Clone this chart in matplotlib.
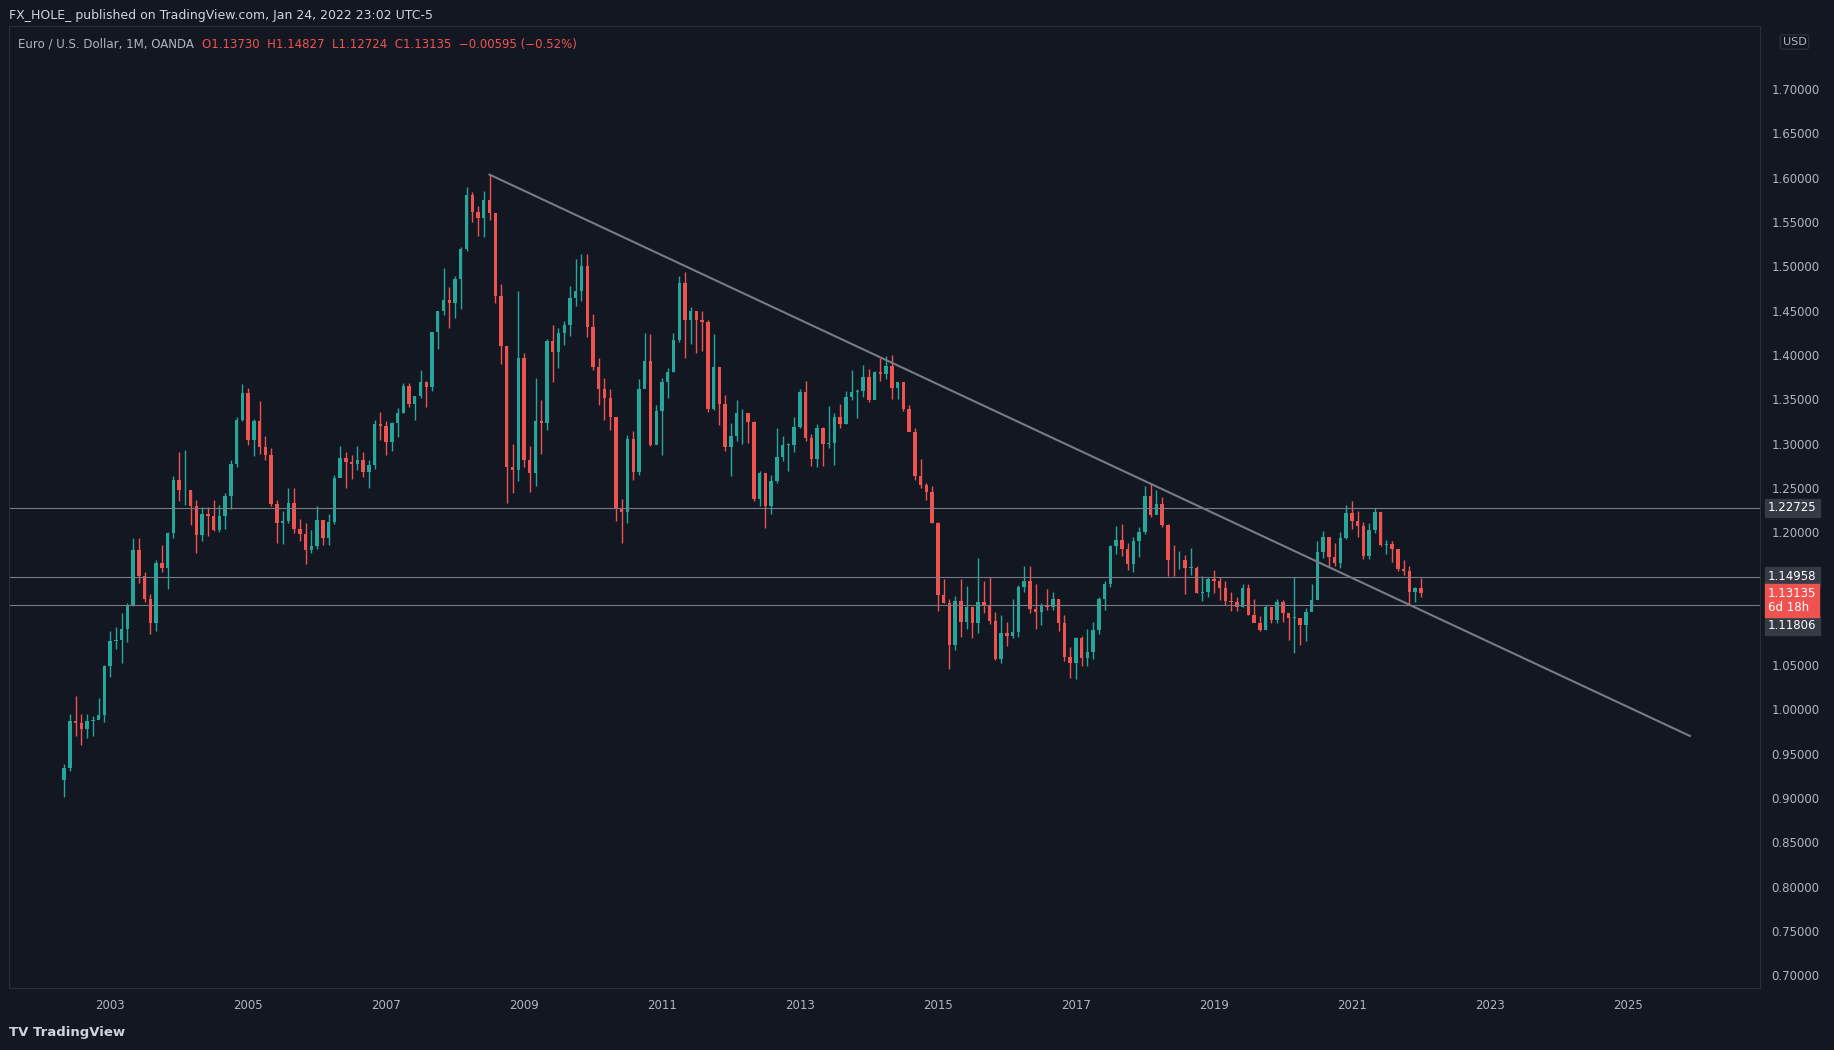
import matplotlib
matplotlib.use("Agg")
import matplotlib.pyplot as plt
from matplotlib.patches import Rectangle

start_year, start_month = 2002, 5
closes = [0.934,0.987,0.985,0.978,0.987,0.988,0.994,1.049,
1.077,1.078,1.091,1.117,1.180,1.150,1.124,1.098,1.165,1.160,1.199,1.259,
1.247,1.248,1.230,1.197,1.220,1.218,1.202,1.218,1.241,1.277,1.327,1.357,
1.304,1.325,1.296,1.287,1.232,1.210,1.213,1.233,1.203,1.198,1.180,1.184,
1.214,1.193,1.212,1.261,1.284,1.279,1.277,1.281,1.268,1.276,1.322,1.320,
1.302,1.323,1.335,1.365,1.345,1.354,1.369,1.364,1.426,1.449,1.462,1.459,
1.486,1.519,1.580,1.561,1.555,1.575,1.560,1.467,1.410,1.273,1.270,1.397,
1.281,1.267,1.325,1.323,1.416,1.403,1.425,1.434,1.464,1.472,1.500,1.432,
1.386,1.362,1.351,1.330,1.227,1.223,1.305,1.268,1.362,1.393,1.298,1.337,
1.369,1.381,1.417,1.481,1.439,1.450,1.439,1.437,1.339,1.386,1.345,1.296,
1.308,1.334,1.334,1.324,1.237,1.267,1.230,1.258,1.285,1.298,1.298,1.319,
1.358,1.306,1.282,1.317,1.300,1.301,1.330,1.322,1.352,1.358,1.359,1.375,
1.349,1.381,1.378,1.387,1.363,1.369,1.339,1.313,1.263,1.253,1.245,1.210,
1.129,1.120,1.073,1.122,1.099,1.115,1.098,1.121,1.118,1.100,1.057,1.086,
1.083,1.087,1.138,1.145,1.113,1.110,1.117,1.116,1.124,1.098,1.059,1.052,
1.080,1.058,1.065,1.090,1.124,1.142,1.184,1.191,1.181,1.164,1.190,1.200,
1.241,1.219,1.232,1.208,1.169,1.168,1.169,1.160,1.160,1.131,1.132,1.147,
1.145,1.137,1.122,1.121,1.116,1.137,1.107,1.098,1.090,1.115,1.101,1.121,
1.109,1.103,1.103,1.095,1.110,1.123,1.178,1.194,1.172,1.165,1.193,1.222,
1.213,1.207,1.173,1.202,1.223,1.186,1.187,1.181,1.158,1.156,1.132,1.137,
1.13135]
highs = [0.938,0.995,1.015,0.995,0.995,0.992,1.013,1.050,
1.088,1.093,1.109,1.120,1.193,1.193,1.155,1.130,1.168,1.185,1.200,1.263,
1.290,1.293,1.248,1.236,1.228,1.228,1.236,1.231,1.244,1.281,1.330,1.367,
1.363,1.328,1.348,1.309,1.295,1.236,1.224,1.250,1.250,1.215,1.210,1.202,
1.230,1.214,1.221,1.264,1.297,1.290,1.287,1.297,1.290,1.281,1.327,1.336,
1.325,1.324,1.340,1.368,1.368,1.354,1.383,1.371,1.426,1.450,1.498,1.477,
1.489,1.522,1.590,1.584,1.568,1.585,1.603,1.557,1.480,1.410,1.300,1.472,
1.402,1.297,1.374,1.349,1.418,1.434,1.430,1.438,1.478,1.508,1.514,1.514,
1.446,1.397,1.374,1.362,1.329,1.237,1.310,1.314,1.373,1.425,1.424,1.343,
1.374,1.385,1.425,1.489,1.494,1.454,1.450,1.449,1.439,1.424,1.380,1.355,
1.323,1.349,1.339,1.330,1.325,1.269,1.239,1.264,1.317,1.309,1.301,1.330,
1.361,1.371,1.311,1.322,1.319,1.342,1.334,1.345,1.359,1.383,1.362,1.389,
1.384,1.382,1.397,1.399,1.400,1.370,1.370,1.343,1.318,1.283,1.255,1.252,
1.211,1.147,1.124,1.128,1.147,1.139,1.115,1.171,1.145,1.149,1.110,1.106,
1.099,1.124,1.140,1.162,1.162,1.142,1.120,1.136,1.132,1.124,1.106,1.070,
1.082,1.083,1.091,1.099,1.127,1.145,1.185,1.207,1.209,1.188,1.195,1.206,
1.252,1.256,1.247,1.240,1.209,1.185,1.179,1.174,1.182,1.162,1.150,1.149,
1.157,1.149,1.145,1.132,1.127,1.141,1.142,1.125,1.105,1.118,1.109,1.124,
1.123,1.105,1.149,1.102,1.114,1.142,1.190,1.201,1.188,1.188,1.200,1.231,
1.235,1.224,1.211,1.210,1.227,1.223,1.191,1.190,1.178,1.169,1.162,1.138,
1.14827]
lows = [0.901,0.930,0.970,0.960,0.968,0.970,0.990,0.986,
1.037,1.068,1.052,1.076,1.117,1.143,1.121,1.085,1.088,1.155,1.136,1.193,
1.235,1.231,1.208,1.176,1.190,1.196,1.201,1.200,1.204,1.226,1.274,1.325,
1.298,1.286,1.288,1.281,1.229,1.188,1.187,1.210,1.199,1.190,1.164,1.177,
1.181,1.185,1.186,1.209,1.263,1.250,1.260,1.270,1.262,1.250,1.271,1.304,
1.287,1.292,1.307,1.334,1.341,1.327,1.351,1.341,1.359,1.407,1.445,1.430,
1.442,1.452,1.517,1.550,1.534,1.533,1.552,1.459,1.390,1.233,1.244,1.258,
1.273,1.245,1.252,1.288,1.315,1.370,1.385,1.411,1.421,1.455,1.461,1.420,
1.383,1.344,1.327,1.315,1.213,1.188,1.210,1.259,1.264,1.368,1.297,1.302,
1.287,1.351,1.381,1.415,1.397,1.412,1.402,1.404,1.336,1.338,1.321,1.292,
1.263,1.303,1.300,1.301,1.235,1.229,1.205,1.220,1.255,1.280,1.269,1.290,
1.317,1.303,1.275,1.274,1.275,1.295,1.276,1.318,1.322,1.349,1.329,1.353,
1.347,1.350,1.371,1.373,1.350,1.350,1.337,1.318,1.259,1.250,1.236,1.210,
1.111,1.120,1.046,1.067,1.082,1.091,1.080,1.086,1.109,1.096,1.056,1.052,
1.071,1.081,1.082,1.133,1.109,1.091,1.095,1.112,1.112,1.088,1.055,1.035,
1.034,1.049,1.049,1.057,1.085,1.112,1.138,1.175,1.173,1.157,1.155,1.172,
1.198,1.217,1.221,1.206,1.151,1.151,1.158,1.130,1.152,1.131,1.122,1.127,
1.131,1.123,1.118,1.111,1.111,1.116,1.107,1.103,1.088,1.090,1.097,1.098,
1.099,1.078,1.064,1.073,1.077,1.117,1.124,1.171,1.161,1.162,1.160,1.192,
1.203,1.195,1.170,1.170,1.199,1.184,1.175,1.166,1.156,1.152,1.119,1.121,
1.12724]
first_open = 0.920
last_open = 1.13730
hlines = [1.22725, 1.14958, 1.11806]
trend = [(2008.5, 1.6035), (2025.9, 0.970)]
year_ticks = list(range(2003, 2026, 2))
price_ticks = [round(0.70 + 0.05 * i, 2) for i in range(21)]

opens = [first_open] + closes[:-1]
opens[-1] = last_open

BG = "#131722"; UP = "#26a69a"; DN = "#ef5350"; TXT = "#b2b5be"; BORDER = "#2a2e39"
fig = plt.figure(figsize=(18.34, 10.5), dpi=100, facecolor=BG)
ax = fig.add_axes([0.0051, 0.059, 0.9547, 0.9165], facecolor=BG)

w = 1 / 12 * 0.6
for i, (o, h, l, c) in enumerate(zip(opens, highs, lows, closes)):
    t = start_year + (start_month - 1 + i) / 12
    col = UP if c >= o else DN
    ax.vlines(t, l, h, color=col, lw=1)
    ax.add_patch(Rectangle((t - w / 2, min(o, c)), w, max(abs(c - o), 0.001), color=col, lw=0))

for v in hlines:
    ax.axhline(v, color="#787b86", lw=0.8)
ax.plot([trend[0][0], trend[1][0]], [trend[0][1], trend[1][1]], color="#787b86", lw=1.5)

ax.set_xlim(2001.54, 2026.92)
ax.set_ylim(0.6855, 1.7715)
ax.set_xticks(year_ticks)
ax.set_xticklabels([str(y) for y in year_ticks])
ax.yaxis.tick_right()
ax.set_yticks(price_ticks)
ax.set_yticklabels([f"{p:.5f}" if p != 1.10 else "" for p in price_ticks])
ax.tick_params(colors=TXT, labelsize=8.5, length=0, pad=8)
for s in ax.spines.values():
    s.set_color(BORDER)

def label(y, txt, col, fs=8.5):
    ax.text(1.0045, y, txt, transform=ax.get_yaxis_transform(), color="white", fontsize=fs,
            va="center", ha="left", linespacing=1.1, zorder=10,
            bbox=dict(boxstyle="square,pad=0.25", fc=col, ec=col), clip_on=False)

label(1.22725, "1.22725", "#363a45")
label(1.1503, "1.14958", "#363a45")
label(1.0950, "1.11806", "#363a45")
label(1.1226, "1.13135\n6d 18h", DN)

fig.text(0.005, 0.985, "FX_HOLE_ published on TradingView.com, Jan 24, 2022 23:02 UTC-5",
         color="#d1d4dc", fontsize=9, va="center")
fig.text(0.01, 0.958, "Euro / U.S. Dollar, 1M, OANDA", color=TXT, fontsize=8.5, va="center")
fig.text(0.110, 0.958, "O1.13730  H1.14827  L1.12724  C1.13135  −0.00595 (−0.52%)",
         color=DN, fontsize=8.5, va="center")
fig.text(0.972, 0.96, "USD", color=TXT, fontsize=8, va="center",
         bbox=dict(boxstyle="round,pad=0.2", fc=BG, ec=BORDER))
fig.text(0.005, 0.017, "TV TradingView", color="#d1d4dc", fontsize=9.5, va="center", weight="bold")
fig.savefig("out.png", facecolor=BG)
